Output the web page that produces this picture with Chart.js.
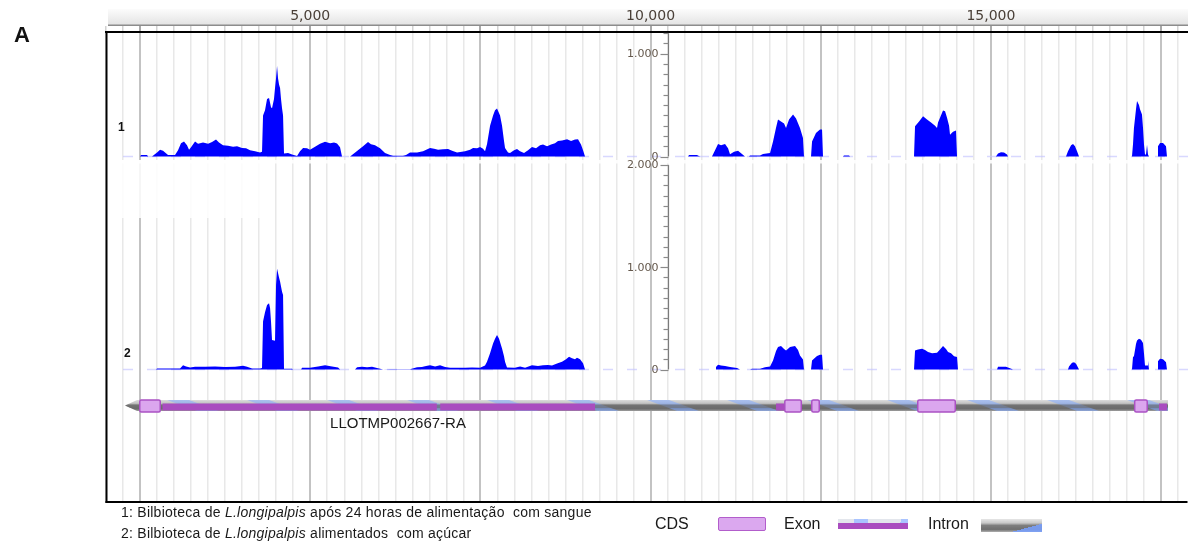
<!DOCTYPE html>
<html>
<head>
<meta charset="utf-8">
<script src="https://cdn.jsdelivr.net/npm/chart.js@4.4.0/dist/chart.umd.min.js"></script>
<style>
  html, body { margin: 0; padding: 0; background: #fff; }
  #wrap { position: relative; width: 1188px; height: 544px; overflow: hidden;
          font-family: "Liberation Sans", Arial, sans-serif; color: #111; }
  #cv { position: absolute; left: 0; top: 0; }
  .txt { position: absolute; white-space: pre; line-height: 1; }
  .panel { left: 14px; top: 24px; font-size: 22px; font-weight: bold; }
  .trk { font-size: 12px; font-weight: bold; }
  .foot { left: 121px; font-size: 14px; letter-spacing: 0.25px; color: #1a1a1a; }
  .leg { font-size: 16px; top: 516px; color: #1a1a1a; }
  .gene { left: 298px; width: 200px; text-align: center; top: 415px; font-size: 15px; color: #1a1a1a; }
  .sw { position: absolute; }
  .sw-cds { left: 718px; top: 517px; width: 46px; height: 12px; background: #dba8ef;
            border: 1.5px solid #b25dcb; border-radius: 2px; }
  .sw-exon { left: 838px; top: 519px; width: 70px; height: 10px;
             background:
               linear-gradient(to bottom, transparent 0 42%, #a94dbf 42% 100%),
               repeating-linear-gradient(100deg, #e3e6ec 0 16px, #a9c3ff 16px 30px, #e3e6ec 30px 46px); }
  .sw-intron { left: 981px; top: 519px; width: 61px; height: 13px;
               background:
                 linear-gradient(165deg, transparent 0 72%, rgba(120,160,255,0.85) 72% 100%),
                 linear-gradient(to bottom, #e6e6e6 0%, #c9c9c9 30%, #7e7e7e 50%, #6f6f6f 80%, #b0b0b0 100%); }
</style>
</head>
<body>
<div id="wrap">
  <canvas id="cv" width="1188" height="544"></canvas>
  <div class="txt panel">A</div>
  <div class="txt trk" style="left:118px; top:121px;">1</div>
  <div class="txt trk" style="left:124px; top:347px;">2</div>
  <div class="txt gene">LLOTMP002667-RA</div>
  <div class="txt foot" style="top:505px;">1: Bilbioteca de <i>L.longipalpis</i> após 24 horas de alimentação  com sangue</div>
  <div class="txt foot" style="top:526px;">2: Bilbioteca de <i>L.longipalpis</i> alimentados  com açúcar</div>
  <div class="txt leg" style="left:655px;">CDS</div>
  <div class="sw sw-cds"></div>
  <div class="txt leg" style="left:784px;">Exon</div>
  <div class="sw sw-exon"></div>
  <div class="txt leg" style="left:928px;">Intron</div>
  <div class="sw sw-intron"></div>
</div>
<script>
// ---- genomic window (bp) ----
const viewStart = 2000;
const viewEnd = 17895;

// ruler: labelled positions and grid spacing (bp)
const rulerLabelPos = [5000, 10000, 15000];
const rulerLabelText = ['5,000', '10,000', '15,000'];
const gridMajorStep = 2500;
const gridMinorStep = 250;

// read coverage, library 1 (24 h after blood meal): position (bp) / depth
const cov1Pos = [2500,2515,2603,2618,2676,2750,2794,2838,2911,3014,3058,3102,3146,3190,3220,3249,3308,3352,3425,3499,3558,3616,3660,3719,3793,3866,3925,3998,4057,4116,4190,4263,4292,4307,4336,4366,4395,4424,4439,4468,4483,4498,4513,4527,4542,4557,4571,4586,4601,4615,4674,4733,4807,4850,4895,4953,4997,5071,5144,5218,5291,5350,5394,5438,5467,5585,5614,5702,5776,5849,5893,5952,6026,6099,6173,6217,6363,6408,6466,6569,6657,6760,6819,6878,6951,7025,7084,7157,7274,7348,7392,7451,7495,7539,7568,7597,7642,7686,7715,7744,7789,7818,7847,7862,7906,7935,7994,8038,8082,8141,8200,8258,8317,8376,8420,8479,8538,8596,8640,8699,8773,8832,8890,8934,8978,9008,9037,
  10550,10565,10682,10726,10902,10947,10991,11035,11094,11138,11167,11226,11285,11343,11387,11446,11461,11608,11652,11755,11799,11843,11872,11916,11961,11990,12034,12093,12137,12195,12239,12254,12357,12372,12430,12489,12519,12533,12827,12842,12915,12930,13870,13885,13944,14003,14061,14120,14179,14208,14223,14252,14296,14326,14355,14385,14399,14443,14487,14502,15074,15104,15148,15192,15236,15251,16103,16132,16177,16206,16235,16265,16294,17072,17087,17101,17131,17146,17175,17190,17219,17234,17249,17263,17278,17293,17307,17322,17440,17454,17484,17528,17572,17586];
const cov1Val = [0,15,15,0,0,40,65,55,15,15,60,130,147,110,65,90,147,125,135,125,140,165,135,110,105,95,100,83,80,60,50,40,45,400,450,560,570,480,470,560,667,760,880,760,700,667,560,470,400,30,35,20,5,50,83,80,65,95,125,143,130,135,127,90,0,0,15,60,100,140,120,110,80,33,15,7,7,15,40,40,50,83,75,65,70,73,55,40,50,65,83,80,93,75,50,120,300,400,450,467,400,300,150,83,40,33,60,73,50,33,60,93,80,110,117,100,117,130,150,155,167,150,165,167,117,60,0,
  0,15,15,0,0,60,121,110,121,80,23,45,56,25,0,0,10,10,25,35,147,280,360,340,320,278,360,409,370,278,180,0,0,147,229,262,262,0,0,10,10,0,0,294,340,392,360,330,300,278,330,376,448,440,376,300,212,240,252,0,0,30,42,40,20,0,0,50,110,121,100,50,0,0,120,278,460,540,500,460,409,280,114,20,20,114,20,0,0,100,131,131,100,0];

// read coverage, library 2 (sugar fed): position (bp) / depth
const cov2Pos = [2735,2750,3088,3132,3176,3235,3308,3455,3602,3749,3896,4013,4072,4146,4263,4292,4307,4336,4366,4395,4410,4424,4439,4483,4498,4513,4542,4557,4586,4601,4615,4733,4747,4865,4880,4997,5115,5218,5321,5409,5438,5658,5688,5761,5835,5908,5981,6070,6173,6466,6569,6642,6701,6760,6834,6907,6981,7054,7274,7378,7495,7568,7597,7642,7686,7715,7744,7774,7818,7847,7862,7891,8008,8082,8156,8258,8346,8420,8494,8552,8626,8699,8758,8802,8846,8890,8919,8964,9008,9037,
  10947,10961,10991,11035,11094,11167,11270,11314,11461,11490,11608,11681,11755,11799,11843,11872,11916,11961,11990,12049,12122,12166,12195,12239,12254,12357,12372,12416,12445,12489,12519,12533,13870,13885,13929,13988,14032,14076,14135,14208,14252,14296,14340,14370,14414,14458,14502,14516,15089,15104,15221,15280,15324,16132,16147,16191,16221,16250,16279,16294,17072,17087,17101,17131,17146,17175,17205,17234,17249,17263,17293,17307,17322,17440,17454,17484,17528,17572,17586];
const cov2Val = [0,10,10,42,30,20,26,26,30,24,28,36,28,10,10,15,468,560,631,647,600,468,288,281,827,984,900,860,760,729,7,7,0,0,16,16,30,42,30,20,0,0,22,28,22,26,15,0,3,3,22,25,35,42,30,42,25,16,16,20,16,40,75,160,255,300,337,300,206,130,75,20,16,30,16,42,35,42,45,40,59,75,100,124,110,101,115,101,60,0,
  0,25,46,40,35,25,15,0,0,8,8,23,30,88,180,219,229,200,186,219,229,190,137,98,0,0,88,115,131,144,144,0,0,186,195,203,190,170,160,163,195,229,200,170,160,130,121,0,0,26,26,12,0,0,30,65,72,55,20,0,0,121,130,250,284,300,290,260,154,39,39,88,0,0,80,105,100,70,0];

// central depth axis: ticks and labels per track
const axisPos = 10256;
const axis1Ticks = [0, 1000];
const axis1Labels = ['0', '1.000'];
const axis1Top = 1200;
const axis2Ticks = [0, 1000, 2000];
const axis2Labels = ['0', '1.000', '2.000'];
const axis2Top = 2000;
const axisMinorStep = 100;

// gene model LLOTMP002667-RA (bp)
const geneSpan = [2280, 17601];
const exonStarts = [2830, 6910, 11843, 17469];
const exonEnds = [6860, 9184, 11961, 17586];
const cdsStarts = [2485, 11961, 12357, 13914, 17101];
const cdsEnds = [2808, 12225, 12489, 14487, 17307];

// ---- layout ----
const AREA_TOP = 32, AREA_BOTTOM = 502, AREA_LEFT = 106;
const GENE_ROW_Y = 405.5;

// each coverage track sits on its own band of the plot area
function bandRange(basePx, pxPer1000) {
  const k = pxPer1000 / 1000;
  return { min: -(AREA_BOTTOM - basePx) / k, max: (basePx - AREA_TOP) / k };
}
const band1 = bandRange(156.5, 102.8);
const band2 = bandRange(369.5, 102.3);

const toXY = (pos, val) => pos.map((p, i) => ({ x: p, y: val[i] }));

const rulerTicks = [];
for (let v = viewStart; v <= viewEnd; v += gridMinorStep) rulerTicks.push(v);

Chart.defaults.font.family = '"DejaVu Sans", Verdana, sans-serif';

const decor = {
  id: 'decor',
  beforeDraw(chart) {
    const c = chart.ctx;
    const g = c.createLinearGradient(0, 9, 0, 25);
    g.addColorStop(0, '#fcfcfc');
    g.addColorStop(1, '#e3e3e3');
    c.save();
    c.fillStyle = g;
    c.fillRect(108, 9, chart.width - 108, 16);
    c.fillStyle = '#8c8c8c';
    c.fillRect(108, 24.5, chart.width - 108, 1.5);
    c.restore();
  },
  beforeDatasetsDraw(chart) {
    // washed-out strips between the two tracks
    const c = chart.ctx;
    c.save();
    c.fillStyle = 'rgba(255,255,255,0.85)';
    c.fillRect(117, 160, 153, 58);
    c.fillStyle = 'rgba(255,255,255,0.9)';
    c.fillRect(117, 160, chart.width - 117, 3.5);
    c.restore();
  },
  afterDatasetsDraw(chart) {
    const c = chart.ctx;
    const xs = chart.scales.x;
    const X = v => xs.getPixelForValue(v);
    c.save();

    // ---- gene model ----
    const top = GENE_ROW_Y - 5.5, h = 11;
    const gx0 = X(geneSpan[0]), gx1 = X(geneSpan[1]);
    const ah = 12;
    const bg = c.createLinearGradient(0, top, 0, top + h);
    bg.addColorStop(0, '#dcdcdc');
    bg.addColorStop(0.3, '#c2c2c2');
    bg.addColorStop(0.5, '#7c7c7c');
    bg.addColorStop(0.8, '#6a6a6a');
    bg.addColorStop(1, '#a0a0a0');
    c.beginPath();
    c.moveTo(gx0, GENE_ROW_Y);
    c.lineTo(gx0 + ah, top);
    c.lineTo(gx1, top);
    c.lineTo(gx1, top + h);
    c.lineTo(gx0 + ah, top + h);
    c.closePath();
    c.fillStyle = bg;
    c.fill();
    c.save();
    c.clip();
    // slanted light-blue stripes along the backbone
    c.fillStyle = 'rgba(130,170,255,0.55)';
    for (let x = gx0 + ah + 30; x < gx1 + 40; x += 80) {
      c.beginPath();
      c.moveTo(x, top);
      c.lineTo(x + 22, top);
      c.lineTo(x + 52, top + h);
      c.lineTo(x + 30, top + h);
      c.closePath();
      c.fill();
    }
    c.fillStyle = 'rgba(105,105,105,0.55)';
    c.fillRect(gx0, top + 4.5, gx1 - gx0, 3.5);
    c.restore();

    // exons
    c.fillStyle = '#a94dbf';
    exonStarts.forEach((s, i) => {
      const a = X(s), b = X(exonEnds[i]);
      c.fillRect(a, top + 3.5, b - a, h - 4);
    });

    // coding blocks
    cdsStarts.forEach((s, i) => {
      const a = X(s), b = X(cdsEnds[i]);
      c.beginPath();
      c.roundRect(a + 0.75, top, b - a - 1.5, h + 1, 1.5);
      c.fillStyle = '#dba6ee';
      c.fill();
      c.lineWidth = 1.5;
      c.strokeStyle = '#ab52c4';
      c.stroke();
    });

    // ---- depth axes in the middle of the tracks ----
    const ax = Math.round(X(axisPos)) + 0.5;
    const drawAxis = (scale, ticks, labels, topVal) => {
      const y0 = scale.getPixelForValue(0), yt = scale.getPixelForValue(topVal);
      c.strokeStyle = '#7a7a7a';
      c.lineWidth = 1.2;
      c.beginPath();
      c.moveTo(ax, Math.min(y0, yt));
      c.lineTo(ax, y0);
      c.stroke();
      c.strokeStyle = '#8a8a8a';
      for (let v = 0; v <= topVal; v += axisMinorStep) {
        const y = Math.round(scale.getPixelForValue(v)) + 0.5;
        const major = ticks.includes(v);
        c.beginPath();
        c.moveTo(ax - (major ? 8 : 5), y);
        c.lineTo(ax, y);
        c.stroke();
      }
      c.fillStyle = '#64584c';
      c.font = '11px "DejaVu Sans", Verdana, sans-serif';
      c.textAlign = 'right';
      c.textBaseline = 'middle';
      ticks.forEach((v, i) => {
        c.fillText(labels[i], ax - 10, scale.getPixelForValue(v) + 0.5);
      });
    };
    drawAxis(chart.scales.y1, axis1Ticks, axis1Labels, axis1Top);
    drawAxis(chart.scales.y2, axis2Ticks, axis2Labels, axis2Top);

    // ---- frame ----
    c.fillStyle = '#000';
    c.fillRect(AREA_LEFT - 0.5, AREA_TOP, 2, AREA_BOTTOM - AREA_TOP + 1);
    c.fillRect(AREA_LEFT - 0.5, AREA_BOTTOM - 1, chart.width - AREA_LEFT, 2);
    c.restore();
  }
};

new Chart(document.getElementById('cv'), {
  type: 'line',
  data: {
    datasets: [
      {
        label: '1', yAxisID: 'y1', data: toXY(cov1Pos, cov1Val),
        fill: 'origin', backgroundColor: '#0000ff', borderWidth: 0,
        pointRadius: 0, tension: 0, order: 1
      },
      {
        label: '2', yAxisID: 'y2', data: toXY(cov2Pos, cov2Val),
        fill: 'origin', backgroundColor: '#0000ff', borderWidth: 0,
        pointRadius: 0, tension: 0, order: 1
      },
      {
        label: 'base1', yAxisID: 'y1', data: [{ x: 2250, y: 0 }, { x: viewEnd, y: 0 }],
        fill: false, borderColor: 'rgba(195,195,255,0.65)', borderWidth: 1.5,
        borderDash: [10, 14], pointRadius: 0, order: 3
      },
      {
        label: 'base2', yAxisID: 'y2', data: [{ x: 2250, y: 0 }, { x: viewEnd, y: 0 }],
        fill: false, borderColor: 'rgba(195,195,255,0.65)', borderWidth: 1.5,
        borderDash: [10, 14], pointRadius: 0, order: 3
      }
    ]
  },
  options: {
    responsive: false,
    animation: false,
    devicePixelRatio: 1,
    layout: { padding: { left: AREA_LEFT, right: 0, top: 0, bottom: 544 - AREA_BOTTOM } },
    plugins: { legend: { display: false }, tooltip: { enabled: false } },
    scales: {
      x: {
        type: 'linear', position: 'top', min: viewStart, max: viewEnd,
        afterFit(s) { s.height = AREA_TOP; },
        afterBuildTicks(s) { s.ticks = rulerTicks.map(v => ({ value: v })); },
        ticks: {
          autoSkip: false, maxRotation: 0, padding: 1,
          color: '#4a4038',
          font: { size: 14 },
          callback(v) {
            const i = rulerLabelPos.indexOf(v);
            return i >= 0 ? rulerLabelText[i] : '';
          }
        },
        grid: {
          drawOnChartArea: true,
          tickLength: 6,
          color: ctx => (ctx.tick && ctx.tick.value % gridMajorStep === 0) ? '#c3c3c3' : '#e8e8e8',
          lineWidth: ctx => (ctx.tick && ctx.tick.value % gridMajorStep === 0) ? 2 : 1.5,
          tickColor: ctx => (ctx.tick && ctx.tick.value % gridMajorStep === 0) ? '#a8a8a8' : '#d2d2d2'
        },
        border: { display: true, color: '#000', width: 2 }
      },
      y1: { display: false, min: band1.min, max: band1.max },
      y2: { display: false, min: band2.min, max: band2.max }
    }
  },
  plugins: [decor]
});
</script>
</body>
</html>
